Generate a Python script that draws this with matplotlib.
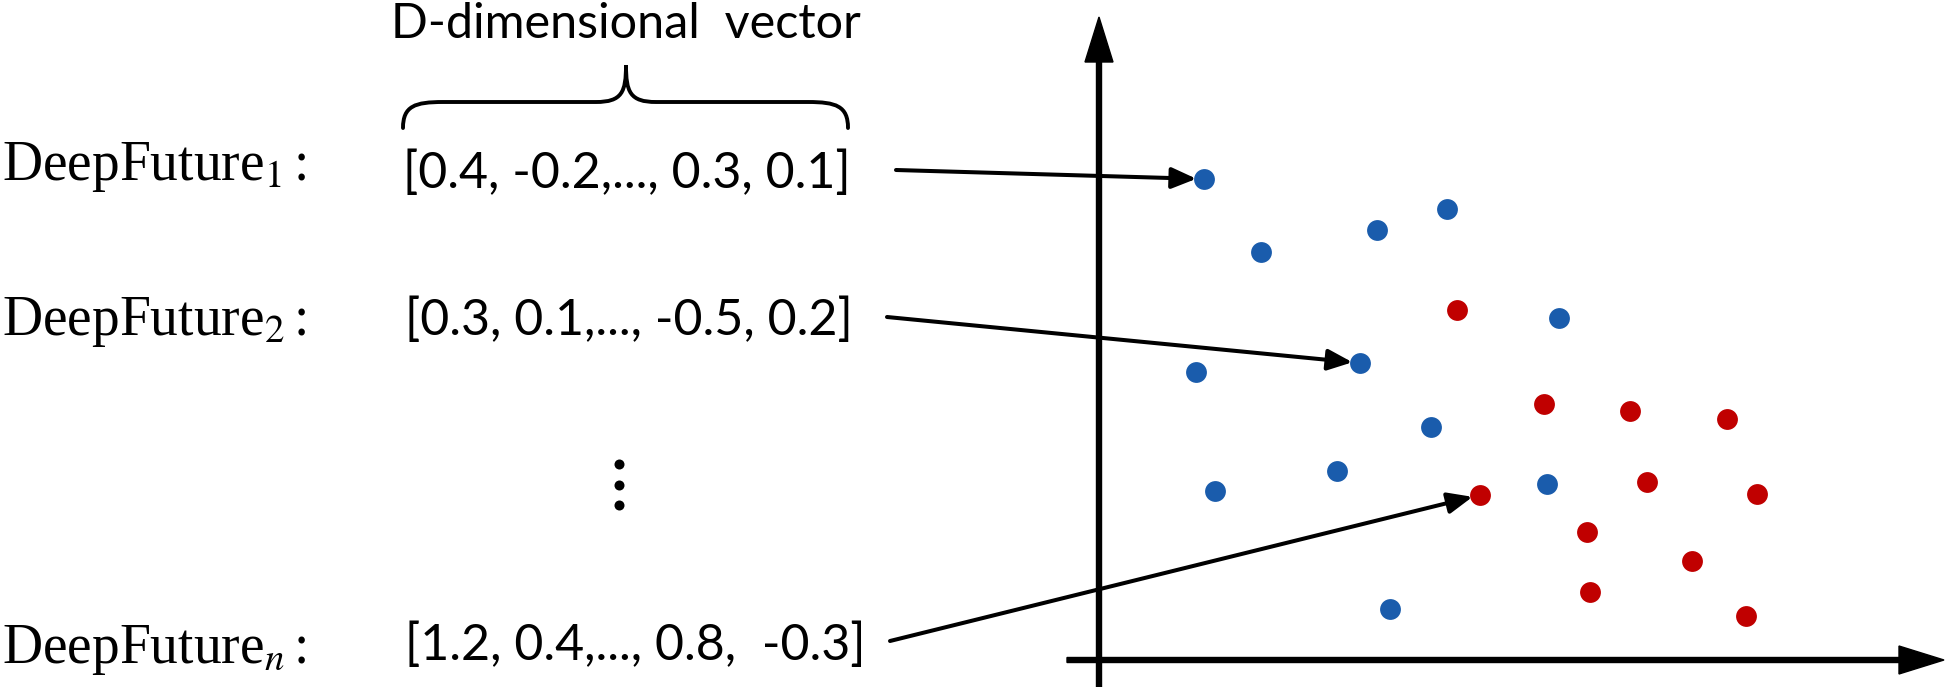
import matplotlib
matplotlib.use("Agg")
import matplotlib.pyplot as plt
from matplotlib.path import Path
from matplotlib.patches import PathPatch

# figure size in pixels
W, H = 1946, 687

# embedding labels on the left
labels = [r"DeepFuture$_1\,$:", r"DeepFuture$_2\,$:", r"DeepFuture$_n\,$:"]
vectors = ["[0.4, -0.2,..., 0.3, 0.1]",
           "[0.3, 0.1,..., -0.5, 0.2]",
           "[1.2, 0.4,..., 0.8,  -0.3]"]
title = "D-dimensional  vector"

# scatter points in the 2-D space (arbitrary units, origin at the axis corner)
blue_x = [1.05, 1.62, 2.78, 3.48, 4.60, 0.97, 2.61, 3.32, 2.38, 1.16, 4.48, 2.91]
blue_y = [4.81, 4.08, 4.30, 4.51, 3.42, 2.88, 2.97, 2.33, 1.89, 1.69, 1.76, 0.51]
red_x = [3.58, 4.45, 5.31, 6.28, 5.48, 6.58, 3.81, 4.88, 5.93, 4.91, 6.47]
red_y = [3.50, 2.56, 2.49, 2.41, 1.78, 1.66, 1.65, 1.28, 0.99, 0.68, 0.44]

# which point each vector points at: (colour, index)
targets = [("blue", 0), ("blue", 6), ("red", 6)]

BLUE = "#1A5CAC"
RED = "#C00000"

plt.rcParams["mathtext.fontset"] = "stix"

fig = plt.figure(figsize=(W / 100, H / 100), dpi=100)
fig.patch.set_facecolor("white")

# overlay axes in pixel coordinates (y down) for text, brace and arrows
ax = fig.add_axes([0, 0, 1, 1])
ax.set_xlim(0, W)
ax.set_ylim(H, 0)
ax.axis("off")

# scatter axes: origin at pixel (1099, 660), 100 px per unit
ox, oy = 1099, 660
ax_sc = fig.add_axes([ox / W, (H - oy) / H, (W - ox) / W, oy / H])
ax_sc.set_xlim(0, (W - ox) / 100)
ax_sc.set_ylim(0, oy / 100)
ax_sc.axis("off")
ax_sc.patch.set_alpha(0)

ax_sc.scatter(blue_x, blue_y, s=225, color=BLUE, zorder=5, linewidths=0)
ax_sc.scatter(red_x, red_y, s=225, color=RED, zorder=5, linewidths=0)

# coordinate axes with big arrow heads
ax.arrow(ox, H, 0, 17 - H, width=5, head_width=28, head_length=45,
         length_includes_head=True, color="black", zorder=2)
ax.arrow(1067, oy, W - 2 - 1067, 0, width=5, head_width=28, head_length=45,
         length_includes_head=True, color="black", zorder=2)

renderer = fig.canvas.get_renderer()


def fit_width(txt, target):
    w = txt.get_window_extent(renderer).width
    txt.set_fontsize(txt.get_fontsize() * target / w)
    return txt.get_fontsize()


label_y = [180, 335, 663]
vec_y = [188, 335, 660]
vec_x = [403, 405, 405]

# labels
for lab, y in zip(labels, label_y):
    ax.text(2, y, lab, family="Liberation Serif", fontsize=40,
            va="baseline", ha="left")

v0 = ax.text(vec_x[0], vec_y[0], vectors[0], family="Lato", fontsize=30,
             va="baseline", ha="left")
vec_fs = fit_width(v0, 447)
for vec, x, y in zip(vectors[1:], vec_x[1:], vec_y[1:]):
    ax.text(x, y, vec, family="Lato", fontsize=vec_fs, va="baseline", ha="left")

tt = ax.text(391, 38, title, family="Lato", fontsize=28, va="baseline", ha="left")
fit_width(tt, 470)

# curly brace above the first vector
L, R, tip_x = 403, 848, 626
yb, yh, yt = 128, 102, 65
verts = [(L, yb), (L, yh + 4), (L + 12, yh), (L + 40, yh),
         (tip_x - 30, yh),
         (tip_x - 4, yh), (tip_x, yh - 10), (tip_x, yt),
         (tip_x, yh - 10), (tip_x + 4, yh), (tip_x + 30, yh),
         (R - 40, yh),
         (R - 12, yh), (R, yh + 4), (R, yb)]
codes = [Path.MOVETO, Path.CURVE4, Path.CURVE4, Path.CURVE4,
         Path.LINETO,
         Path.CURVE4, Path.CURVE4, Path.CURVE4,
         Path.CURVE4, Path.CURVE4, Path.CURVE4,
         Path.LINETO,
         Path.CURVE4, Path.CURVE4, Path.CURVE4]
ax.add_patch(PathPatch(Path(verts, codes), fill=False, lw=2.8,
                       edgecolor="black", capstyle="round"))

# vertical ellipsis between rows
ax.scatter([619, 619, 619], [464, 485, 505], s=52, color="black", linewidths=0)

# pointer arrows from vectors to their points
starts = [(896, 170), (887, 317), (890, 641)]
for (x0, y0), (col, i) in zip(starts, targets):
    px = blue_x[i] if col == "blue" else red_x[i]
    py = blue_y[i] if col == "blue" else red_y[i]
    ax_sc.annotate("", xy=(px, py), xycoords="data",
                   xytext=(x0, y0), textcoords=ax.transData,
                   arrowprops=dict(arrowstyle="-|>,head_length=0.75,head_width=0.32",
                                   mutation_scale=20, lw=2.9, color="black",
                                   shrinkA=0, shrinkB=5.5),
                   zorder=4)

fig.savefig("out.png", dpi=100, facecolor="white")
